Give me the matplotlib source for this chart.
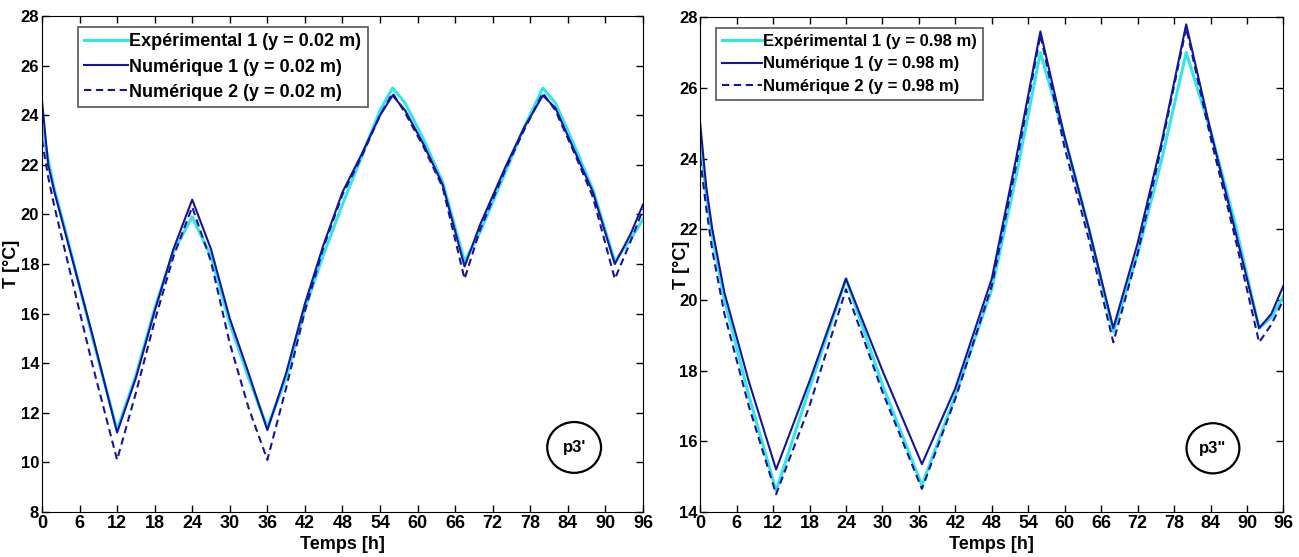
import matplotlib
matplotlib.use("Agg")
import matplotlib.pyplot as plt
from matplotlib.patches import Ellipse

# --- données ---
t_left = [0, 1, 2, 4, 8, 12, 15, 18, 21, 24, 27, 30, 33, 36, 39, 42, 45, 48, 51, 54,
          56, 58, 61, 64, 67.5, 70, 74, 77, 80, 82, 85, 88, 91.5, 94, 96]
exp1_left = [23.5, 22.2, 21.0, 19.1, 15.1, 11.3, 13.5, 16.2, 18.5, 19.9, 18.3, 15.6, 13.4,
             11.4, 13.4, 16.2, 18.4, 20.4, 22.3, 24.2, 25.1, 24.5, 23.0, 21.3, 18.1, 19.3,
             21.7, 23.5, 25.1, 24.5, 22.8, 21.0, 18.1, 19.0, 19.8]
num1_left = [24.6, 22.0, 20.9, 19.0, 15.2, 11.2, 13.4, 16.1, 18.6, 20.6, 18.6, 15.8, 13.6,
             11.3, 13.6, 16.4, 18.8, 20.9, 22.4, 24.0, 24.8, 24.2, 22.8, 21.2, 17.9, 19.6,
             21.9, 23.5, 24.8, 24.3, 22.6, 20.9, 18.0, 19.2, 20.4]
num2_left = [23.0, 21.5, 20.3, 18.2, 14.0, 10.1, 12.8, 15.7, 18.3, 20.3, 18.1, 14.8, 12.2,
             10.1, 13.0, 16.1, 18.7, 20.8, 22.3, 24.0, 24.9, 24.1, 22.7, 21.1, 17.4, 19.4,
             21.8, 23.4, 24.9, 24.2, 22.5, 20.7, 17.4, 18.9, 20.2]

t_right = [0, 1, 2, 4, 8, 12.5, 18, 24, 30, 36.5, 42, 48, 52, 56, 60, 64, 68, 72, 76, 80,
           84, 88, 92, 94, 96]
exp1_right = [24.5, 23.0, 21.8, 20.0, 17.3, 14.6, 17.5, 20.6, 17.6, 14.75, 17.3, 20.3, 23.5,
              27.0, 24.6, 22.0, 19.1, 21.3, 24.0, 27.0, 24.8, 22.2, 19.2, 19.5, 20.1]
num1_right = [25.0, 23.2, 22.0, 20.2, 17.7, 15.2, 17.7, 20.6, 18.0, 15.35, 17.5, 20.6, 24.0,
              27.6, 24.6, 22.0, 19.2, 21.6, 24.5, 27.8, 24.8, 22.0, 19.2, 19.6, 20.4]
num2_right = [24.0, 22.6, 21.4, 19.6, 17.0, 14.5, 17.0, 20.3, 17.4, 14.65, 17.2, 20.4, 23.8,
              27.5, 24.3, 21.7, 18.8, 21.3, 24.4, 27.7, 24.6, 21.8, 18.8, 19.3, 20.0]

CYAN = "#33e6e6"
NAVY = "#1414a0"
FONT = ["Liberation Sans", "DejaVu Sans"]

fig = plt.figure(figsize=(12.99, 5.57), dpi=100)
ax1 = fig.add_axes([0.0323, 0.081, 0.4627, 0.890])
ax2 = fig.add_axes([0.539, 0.081, 0.449, 0.888])


def draw(ax, t, exp1, num1, num2, ylim, pos, lab, label_txt, leg_x, ylab_x, leg_size):
    ax.plot(t, exp1, color=CYAN, lw=2.2, label="Expérimental 1 (y = %s m)" % pos)
    ax.plot(t, num1, color=NAVY, lw=1.5, label="Numérique 1 (y = %s m)" % pos)
    ax.plot(t, num2, color=NAVY, lw=1.5, ls=(0, (3.5, 2.2)), label="Numérique 2 (y = %s m)" % pos)
    ax.set_xlim(0, 96)
    ax.set_ylim(*ylim)
    ax.set_xticks(range(0, 97, 6))
    ax.set_yticks(range(ylim[0], ylim[1] + 1, 2))
    ax.tick_params(direction="in", top=True, right=True, length=5, width=1, pad=2)
    plt.setp(ax.get_xticklabels(), family=FONT, fontweight="bold", fontsize=13)
    plt.setp(ax.get_yticklabels(), family=FONT, fontweight="bold", fontsize=12)
    ax.set_xlabel("Temps [h]", fontsize=13, fontweight="bold", family=FONT, labelpad=3)
    ax.set_ylabel("T [°C]", fontsize=13, fontweight="bold", family=FONT)
    ax.yaxis.set_label_coords(ylab_x, 0.5)
    leg = ax.legend(loc="upper left", bbox_to_anchor=(leg_x, 0.978), fancybox=False,
                    framealpha=1, edgecolor="#555555", handlelength=2.4,
                    handletextpad=0.1, borderpad=0.35, labelspacing=0.45, borderaxespad=0,
                    prop={"family": FONT, "weight": "bold", "size": leg_size})
    leg.get_frame().set_linewidth(1.2)
    ell = Ellipse(lab[0], width=lab[1], height=lab[2], fill=False, lw=1.6, color="black")
    ax.add_patch(ell)
    ax.text(lab[0][0], lab[0][1], label_txt, ha="center", va="center",
            fontsize=12, fontweight="bold", family=FONT)


draw(ax1, t_left, exp1_left, num1_left, num2_left, (8, 28), "0.02",
     ((85.0, 10.6), 8.6, 2.05), "p3'", 0.06, -0.036, 13)
draw(ax2, t_right, exp1_right, num1_right, num2_right, (14, 28), "0.98",
     ((84.4, 15.8), 8.7, 1.42), 'p3"', 0.027, -0.018, 12)

fig.savefig("out.png", dpi=100)
